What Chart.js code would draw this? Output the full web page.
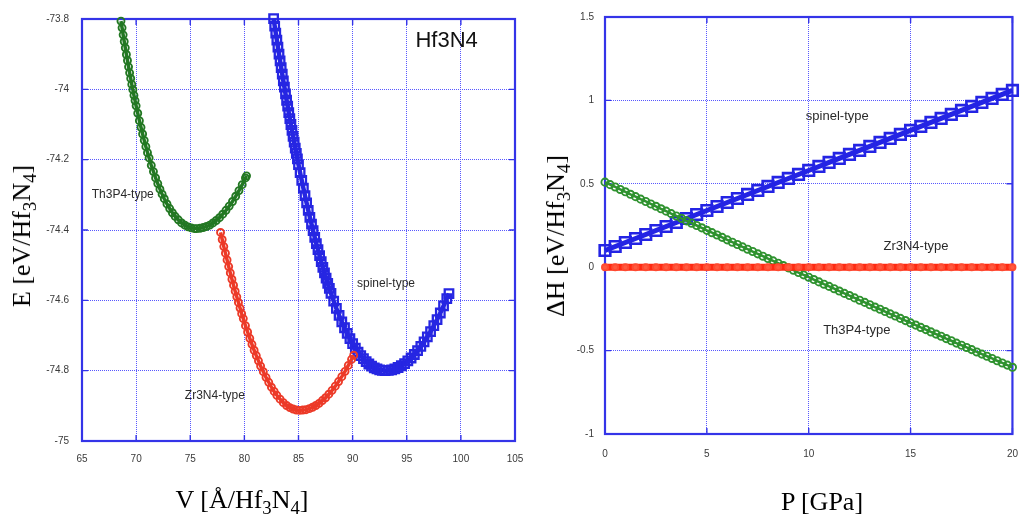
<!DOCTYPE html>
<html>
<head>
<meta charset="utf-8">
<script src="https://cdn.jsdelivr.net/npm/chart.js@4.4.1/dist/chart.umd.min.js"></script>
<style>
html, body { margin: 0; padding: 0; background: #fff; }
#page { position: relative; width: 1032px; height: 523px; overflow: hidden; font-family: 'Liberation Serif', 'Times New Roman', serif; }
.panel { position: absolute; top: 0; height: 523px; }
#left { left: 0; width: 540px; }
#right { left: 520px; width: 512px; }
.title { position: absolute; font-size: 26px; color: #000; white-space: nowrap; line-height: 1; transform: translate(-50%, -50%); }
.title.vertical { transform: translate(-50%, -50%) rotate(-90deg); }
.title sub { font-size: 0.72em; vertical-align: -0.3em; line-height: 0; }
</style>
</head>
<body>
<div id="page">
	<div class="panel" id="left"><canvas id="leftChart" width="540" height="523"></canvas></div>
	<div class="panel" id="right"><canvas id="rightChart" width="512" height="523"></canvas></div>
	<div class="title vertical" style="left: 22px; top: 236px;">E [eV/Hf<sub>3</sub>N<sub>4</sub>]</div>
	<div class="title" style="left: 242px; top: 500px;">V [Å/Hf<sub>3</sub>N<sub>4</sub>]</div>
	<div class="title vertical" style="left: 556px; top: 236px;">ΔH [eV/Hf<sub>3</sub>N<sub>4</sub>]</div>
	<div class="title" style="left: 822px; top: 502px;">P [GPa]</div>
</div>
<script>
// E(V) curves, left panel
const volumeTh = [68.6, 68.7, 68.8, 68.9, 69.0, 69.1, 69.2, 69.3, 69.4, 69.5, 69.6, 69.7, 69.8, 69.9, 70.0, 70.15, 70.3, 70.45, 70.6, 70.75, 70.9, 71.05, 71.2, 71.4, 71.6, 71.8, 72.0, 72.2, 72.4, 72.6, 72.85, 73.1, 73.35, 73.6, 73.9, 74.2, 74.5, 74.8, 75.1, 75.4, 75.6, 75.9, 76.2, 76.5, 76.8, 77.1, 77.4, 77.7, 78.0, 78.3, 78.6, 78.9, 79.2, 79.5, 79.8, 80.1, 80.2];
const energyTh = [-73.806, -73.825, -73.845, -73.864, -73.882, -73.901, -73.918, -73.936, -73.953, -73.969, -73.986, -74.001, -74.017, -74.032, -74.047, -74.068, -74.089, -74.108, -74.127, -74.145, -74.163, -74.180, -74.195, -74.216, -74.234, -74.252, -74.268, -74.284, -74.298, -74.311, -74.326, -74.339, -74.351, -74.361, -74.371, -74.380, -74.386, -74.391, -74.394, -74.396, -74.396, -74.395, -74.393, -74.390, -74.386, -74.380, -74.373, -74.365, -74.355, -74.344, -74.332, -74.319, -74.304, -74.288, -74.271, -74.252, -74.246];

const volumeZr = [77.8, 77.95, 78.1, 78.25, 78.4, 78.55, 78.7, 78.85, 79.0, 79.15, 79.3, 79.45, 79.6, 79.75, 79.9, 80.1, 80.3, 80.5, 80.7, 80.9, 81.1, 81.3, 81.5, 81.75, 82.0, 82.25, 82.5, 82.75, 83.0, 83.3, 83.6, 83.9, 84.2, 84.5, 84.8, 85.1, 85.4, 85.7, 86.0, 86.3, 86.6, 86.9, 87.2, 87.5, 87.8, 88.1, 88.4, 88.7, 89.0, 89.3, 89.6, 89.9, 90.1];
const energyZr = [-74.407, -74.427, -74.447, -74.466, -74.485, -74.504, -74.522, -74.540, -74.557, -74.574, -74.590, -74.606, -74.622, -74.638, -74.652, -74.672, -74.690, -74.708, -74.725, -74.742, -74.757, -74.772, -74.787, -74.803, -74.819, -74.833, -74.847, -74.859, -74.870, -74.881, -74.891, -74.899, -74.905, -74.909, -74.912, -74.913, -74.912, -74.911, -74.908, -74.904, -74.899, -74.893, -74.885, -74.877, -74.867, -74.856, -74.844, -74.831, -74.817, -74.802, -74.785, -74.768, -74.756];

const volumeSpinel = [82.7, 82.8, 82.9, 83.0, 83.1, 83.2, 83.3, 83.4, 83.5, 83.6, 83.7, 83.8, 83.9, 84.0, 84.1, 84.2, 84.3, 84.4, 84.5, 84.6, 84.7, 84.8, 84.9, 85.0, 85.15, 85.3, 85.45, 85.6, 85.75, 85.9, 86.05, 86.2, 86.35, 86.5, 86.65, 86.8, 86.95, 87.1, 87.25, 87.4, 87.55, 87.7, 87.85, 88.0, 88.25, 88.5, 88.75, 89.0, 89.25, 89.5, 89.75, 90.0, 90.25, 90.5, 90.75, 91.0, 91.25, 91.5, 91.75, 92.0, 92.25, 92.5, 92.75, 93.0, 93.3, 93.6, 93.9, 94.2, 94.5, 94.8, 95.1, 95.4, 95.7, 96.0, 96.3, 96.6, 96.9, 97.2, 97.5, 97.8, 98.1, 98.4, 98.7, 98.9];
const energySpinel = [-73.799, -73.820, -73.840, -73.860, -73.880, -73.900, -73.919, -73.938, -73.957, -73.976, -73.994, -74.013, -74.031, -74.048, -74.066, -74.083, -74.100, -74.117, -74.134, -74.150, -74.167, -74.182, -74.198, -74.214, -74.237, -74.259, -74.281, -74.302, -74.323, -74.344, -74.364, -74.383, -74.402, -74.421, -74.439, -74.456, -74.473, -74.490, -74.506, -74.522, -74.537, -74.552, -74.566, -74.580, -74.602, -74.623, -74.643, -74.661, -74.678, -74.694, -74.709, -74.723, -74.736, -74.747, -74.757, -74.766, -74.774, -74.781, -74.787, -74.792, -74.795, -74.798, -74.799, -74.800, -74.799, -74.798, -74.795, -74.791, -74.786, -74.780, -74.772, -74.764, -74.754, -74.743, -74.731, -74.718, -74.704, -74.689, -74.672, -74.655, -74.636, -74.616, -74.595, -74.581];

// enthalpy difference vs pressure, right panel
const pressureFine = [0, 0.25, 0.5, 0.75, 1, 1.25, 1.5, 1.75, 2, 2.25, 2.5, 2.75, 3, 3.25, 3.5, 3.75, 4, 4.25, 4.5, 4.75, 5, 5.25, 5.5, 5.75, 6, 6.25, 6.5, 6.75, 7, 7.25, 7.5, 7.75, 8, 8.25, 8.5, 8.75, 9, 9.25, 9.5, 9.75, 10, 10.25, 10.5, 10.75, 11, 11.25, 11.5, 11.75, 12, 12.25, 12.5, 12.75, 13, 13.25, 13.5, 13.75, 14, 14.25, 14.5, 14.75, 15, 15.25, 15.5, 15.75, 16, 16.25, 16.5, 16.75, 17, 17.25, 17.5, 17.75, 18, 18.25, 18.5, 18.75, 19, 19.25, 19.5, 19.75, 20];
const pressureCoarse = [0, 0.5, 1, 1.5, 2, 2.5, 3, 3.5, 4, 4.5, 5, 5.5, 6, 6.5, 7, 7.5, 8, 8.5, 9, 9.5, 10, 10.5, 11, 11.5, 12, 12.5, 13, 13.5, 14, 14.5, 15, 15.5, 16, 16.5, 17, 17.5, 18, 18.5, 19, 19.5, 20];
const dhSpinel = [0.100, 0.124, 0.148, 0.172, 0.196, 0.220, 0.244, 0.268, 0.292, 0.316, 0.340, 0.364, 0.388, 0.412, 0.436, 0.460, 0.484, 0.508, 0.532, 0.556, 0.580, 0.604, 0.628, 0.652, 0.676, 0.700, 0.724, 0.748, 0.772, 0.796, 0.820, 0.844, 0.868, 0.892, 0.916, 0.940, 0.964, 0.988, 1.012, 1.036, 1.060];
const dhTh = [0.510, 0.495, 0.481, 0.466, 0.452, 0.437, 0.423, 0.408, 0.394, 0.379, 0.365, 0.350, 0.336, 0.321, 0.307, 0.293, 0.278, 0.264, 0.250, 0.236, 0.221, 0.207, 0.193, 0.179, 0.164, 0.150, 0.136, 0.122, 0.108, 0.094, 0.080, 0.066, 0.052, 0.038, 0.024, 0.010, -0.004, -0.018, -0.032, -0.046, -0.060, -0.074, -0.088, -0.102, -0.115, -0.129, -0.143, -0.157, -0.170, -0.184, -0.198, -0.211, -0.225, -0.239, -0.252, -0.266, -0.280, -0.293, -0.307, -0.320, -0.334, -0.347, -0.361, -0.374, -0.388, -0.401, -0.414, -0.428, -0.441, -0.455, -0.468, -0.481, -0.494, -0.508, -0.521, -0.534, -0.547, -0.561, -0.574, -0.587, -0.600];
const dhZr = [0, 0, 0, 0, 0, 0, 0, 0, 0, 0, 0, 0, 0, 0, 0, 0, 0, 0, 0, 0, 0, 0, 0, 0, 0, 0, 0, 0, 0, 0, 0, 0, 0, 0, 0, 0, 0, 0, 0, 0, 0];

// tick values
const volumeTicks = [65, 70, 75, 80, 85, 90, 95, 100, 105];
const energyTicks = [-75, -74.8, -74.6, -74.4, -74.2, -74, -73.8];
const pressureTicks = [0, 5, 10, 15, 20];
const enthalpyTicks = [-1, -0.5, 0, 0.5, 1, 1.5];

const FRAME_BLUE = '#3434e8';
const GRID_BLUE = '#5858ff';

function toPoints(xs, ys) {
	return xs.map((x, i) => ({ x: x, y: ys[i] }));
}

// hollow markers; lineWidth > 0 also joins them with a band in the same colour
function markerSet(label, xs, ys, color, style, radius, width, lineWidth) {
	return {
		label: label,
		data: toPoints(xs, ys),
		showLine: lineWidth > 0,
		borderColor: color,
		borderWidth: lineWidth,
		pointStyle: style,
		pointRadius: radius,
		pointBorderWidth: width,
		pointBorderColor: color,
		pointBackgroundColor: 'rgba(255,255,255,0)',
		clip: false
	};
}

const framePlugin = {
	id: 'frame',
	beforeDatasetsDraw(chart) {
		const a = chart.chartArea;
		const ctx = chart.ctx;
		ctx.save();
		ctx.strokeStyle = FRAME_BLUE;
		ctx.lineWidth = 1.4;
		chart.scales.x.ticks.forEach((t) => {
			const px = chart.scales.x.getPixelForValue(t.value);
			ctx.beginPath();
			ctx.moveTo(px, a.bottom); ctx.lineTo(px, a.bottom - 6);
			ctx.moveTo(px, a.top); ctx.lineTo(px, a.top + 6);
			ctx.stroke();
		});
		chart.scales.y.ticks.forEach((t) => {
			const py = chart.scales.y.getPixelForValue(t.value);
			ctx.beginPath();
			ctx.moveTo(a.left, py); ctx.lineTo(a.left + 6, py);
			ctx.moveTo(a.right, py); ctx.lineTo(a.right - 6, py);
			ctx.stroke();
		});
		ctx.lineWidth = 2.2;
		ctx.strokeRect(a.left, a.top, a.width, a.height);
		ctx.restore();
	},
	afterDraw(chart, args, opts) {
		const ctx = chart.ctx;
		ctx.save();
		ctx.textAlign = 'left';
		ctx.textBaseline = 'middle';
		(opts.labels || []).forEach((item) => {
			ctx.font = String(item.size) + 'px "Liberation Sans", Arial, sans-serif';
			ctx.fillStyle = item.color || '#2a2a2a';
			ctx.fillText(item.text, chart.scales.x.getPixelForValue(item.x), chart.scales.y.getPixelForValue(item.y));
		});
		ctx.restore();
	}
};

function buildScale(min, max, tickValues, size, isX, pad) {
	return {
		type: 'linear',
		min: min,
		max: max,
		afterBuildTicks(scale) {
			scale.ticks = tickValues.map((v) => ({ value: v }));
		},
		afterFit(scale) {
			if (isX) {
				scale.height = size;
			} else {
				scale.width = size;
			}
		},
		grid: {
			color: GRID_BLUE,
			lineWidth: 1,
			drawTicks: false,
			tickLength: 0
		},
		// in v4 the border dash is what dots the grid lines
		border: {
			display: false,
			dash: [1, 1]
		},
		ticks: {
			padding: pad,
			color: '#3a3a3a',
			font: { family: '"Liberation Sans", Arial, sans-serif', size: 10 },
			callback: (v) => String(v)
		}
	};
}

function buildOptions(xScale, yScale, padding, labels) {
	return {
		responsive: false,
		animation: false,
		layout: { padding: padding },
		scales: {
			x: xScale,
			y: yScale
		},
		plugins: {
			legend: { display: false },
			tooltip: { enabled: false },
			frame: { labels: labels }
		}
	};
}

new Chart(document.getElementById('leftChart'), {
	type: 'scatter',
	data: {
		datasets: [
			markerSet('Th3P4-type', volumeTh, energyTh, '#237823', 'circle', 3.5, 1.9, 3.5),
			markerSet('Zr3N4-type', volumeZr, energyZr, '#ec3a28', 'circle', 3.5, 1.9, 3.5),
			markerSet('spinel-type', volumeSpinel, energySpinel, '#2626e2', 'rect', 6, 2.3, 4.5)
		]
	},
	options: buildOptions(buildScale(65, 105, volumeTicks, 82, true, 12), buildScale(-75, -73.8, energyTicks, 82, false, 13), { left: 0, top: 15, right: 25, bottom: 0 }, [
		{ text: 'Hf3N4', x: 95.8, y: -73.862, size: 22, color: '#111' },
		{ text: 'Th3P4-type', x: 65.9, y: -74.299, size: 12 },
		{ text: 'spinel-type', x: 90.4, y: -74.552, size: 12 },
		{ text: 'Zr3N4-type', x: 74.5, y: -74.870, size: 12 }
	]),
	plugins: [framePlugin]
});

const zrSet = markerSet('Zr3N4-type', pressureCoarse, dhZr, '#ff2a12', 'circle', 3, 2, 7);
zrSet.pointBackgroundColor = '#ff5a40';
zrSet.pointBorderColor = '#ff4a30';

new Chart(document.getElementById('rightChart'), {
	type: 'scatter',
	data: {
		datasets: [
			zrSet,
			markerSet('Th3P4-type', pressureFine, dhTh, '#2f922f', 'circle', 3.6, 1.9, 2.5),
			markerSet('spinel-type', pressureCoarse, dhSpinel, '#2424e4', 'rect', 7.5, 2.6, 5)
		]
	},
	options: buildOptions(buildScale(0, 20, pressureTicks, 89, true, 14), buildScale(-1, 1.5, enthalpyTicks, 85, false, 11), { left: 0, top: 13, right: 7, bottom: 0 }, [
		{ text: 'spinel-type', x: 9.86, y: 0.906, size: 13 },
		{ text: 'Zr3N4-type', x: 13.67, y: 0.122, size: 13 },
		{ text: 'Th3P4-type', x: 10.71, y: -0.382, size: 13 }
	]),
	plugins: [framePlugin]
});
</script>
</body>
</html>
